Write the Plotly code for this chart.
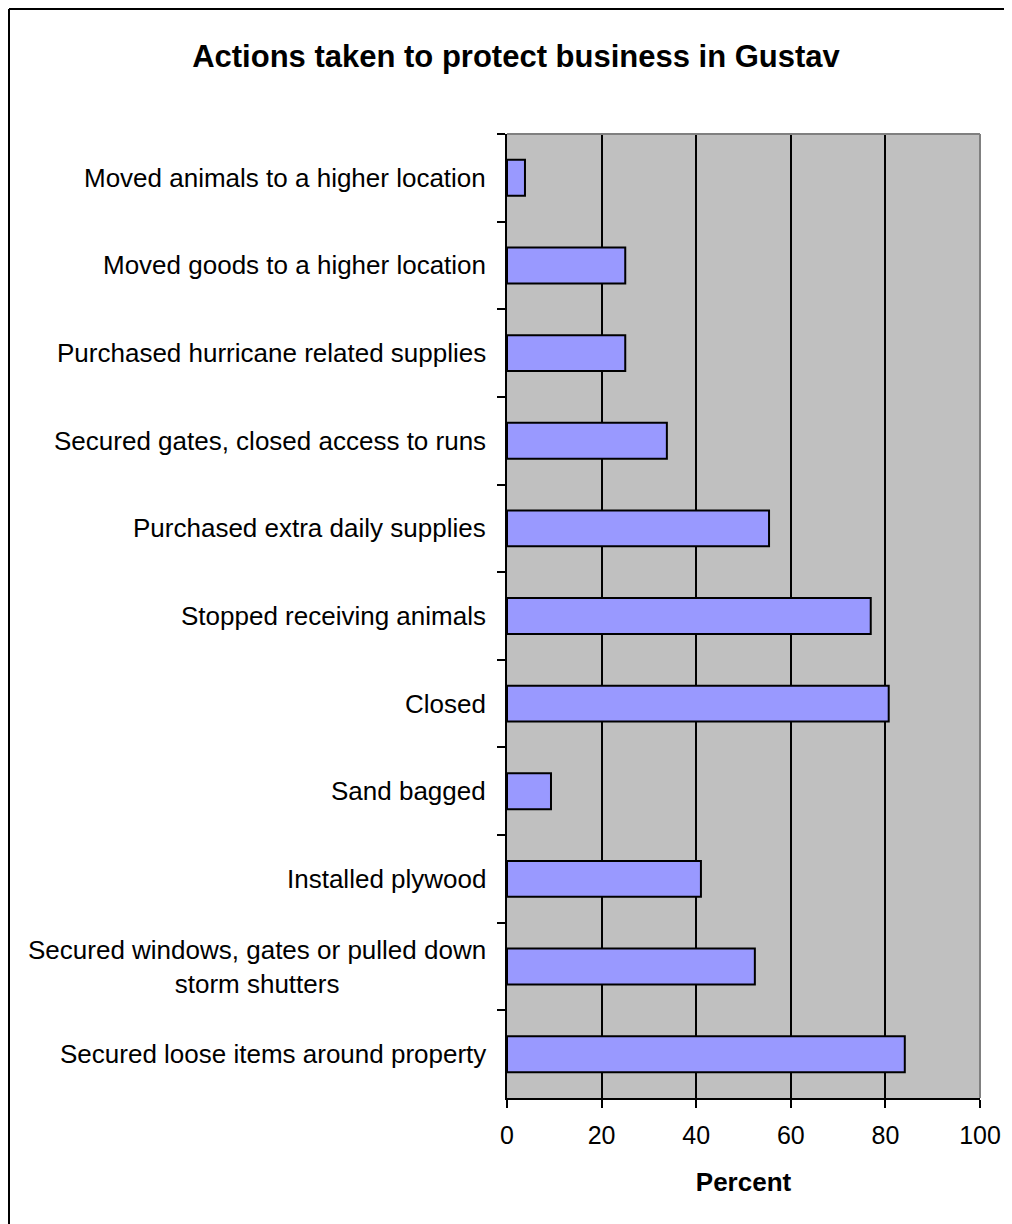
import plotly.graph_objects as go

categories = [
    "Moved animals to a higher location",
    "Moved goods to a higher location",
    "Purchased hurricane related supplies",
    "Secured gates, closed access to runs",
    "Purchased extra daily supplies",
    "Stopped receiving animals",
    "Closed",
    "Sand bagged",
    "Installed plywood",
    "Secured windows, gates or pulled down<br>storm shutters",
    "Secured loose items around property",
]
values = [3.8, 25.0, 25.0, 33.8, 55.4, 76.9, 80.7, 9.3, 41.0, 52.4, 84.1]
x_ticks = [0, 20, 40, 60, 80, 100]

FONT = "Liberation Sans, Arial, sans-serif"

fig = go.Figure(
    go.Bar(
        y=categories,
        x=values,
        orientation="h",
        marker=dict(color="#9999FF", line=dict(color="black", width=2)),
        width=0.41,
    )
)

# page body has an 8px margin, so the figure is laid out 8px smaller
W, H = 1004, 1216
L, R, T, B = 499, 32, 126, 126

fig.update_layout(
    width=W,
    height=H,
    margin=dict(l=L, r=R, t=T, b=B),
    paper_bgcolor="white",
    plot_bgcolor="#C0C0C0",
    showlegend=False,
    title=dict(
        text="<b>Actions taken to protect business in Gustav</b>",
        x=(516 - 8) / W,
        xanchor="center",
        y=1 - 48 / H,
        yanchor="middle",
        font=dict(family=FONT, size=31, color="black"),
    ),
    xaxis=dict(
        range=[0, 100],
        tickvals=x_ticks,
        ticks="outside",
        ticklen=8,
        tickwidth=2,
        tickcolor="black",
        ticklabelstandoff=6,
        showline=True,
        linecolor="black",
        linewidth=2,
        showgrid=True,
        gridcolor="black",
        gridwidth=1.5,
        zeroline=False,
        tickfont=dict(family=FONT, size=25, color="black"),
        title=dict(
            text="<b>Percent</b>",
            font=dict(family=FONT, size=26, color="black"),
            standoff=25,
        ),
    ),
    yaxis=dict(
        autorange=False,
        range=[len(categories) - 0.5, -0.5],
        type="category",
        categoryorder="array",
        categoryarray=categories,
        ticks="outside",
        tickson="boundaries",
        ticklen=8,
        tickwidth=2,
        tickcolor="black",
        showticklabels=False,
        showline=True,
        linecolor="black",
        linewidth=2,
        showgrid=False,
        zeroline=False,
    ),
    bargap=0.59,
)

# category labels as centred annotations
for cat in categories:
    fig.add_annotation(
        x=0, xref="paper", xanchor="right", xshift=-19,
        y=cat, yref="y", yanchor="middle",
        text=cat, showarrow=False, align="center",
        font=dict(family=FONT, size=26, color="black"),
    )

# grey top / right border of plot area
fig.add_shape(type="line", xref="paper", yref="paper", x0=0, x1=1, y0=1, y1=1,
              line=dict(color="#808080", width=2))
fig.add_shape(type="line", xref="paper", yref="paper", x0=1, x1=1, y0=0, y1=1,
              line=dict(color="#808080", width=2))

# outer chart frame (top and left visible)
pw = W - L - R
ph = H - T - B
def px_x(p):
    return (p - L) / pw
def px_y(p):
    return (H - B - p) / ph
fig.add_shape(type="line", xref="paper", yref="paper",
              x0=px_x(1), x1=px_x(1030), y0=px_y(1), y1=px_y(1),
              line=dict(color="black", width=2))
fig.add_shape(type="line", xref="paper", yref="paper",
              x0=px_x(1), x1=px_x(1), y0=px_y(1), y1=px_y(1240),
              line=dict(color="black", width=2))

fig.write_html("out.html")
